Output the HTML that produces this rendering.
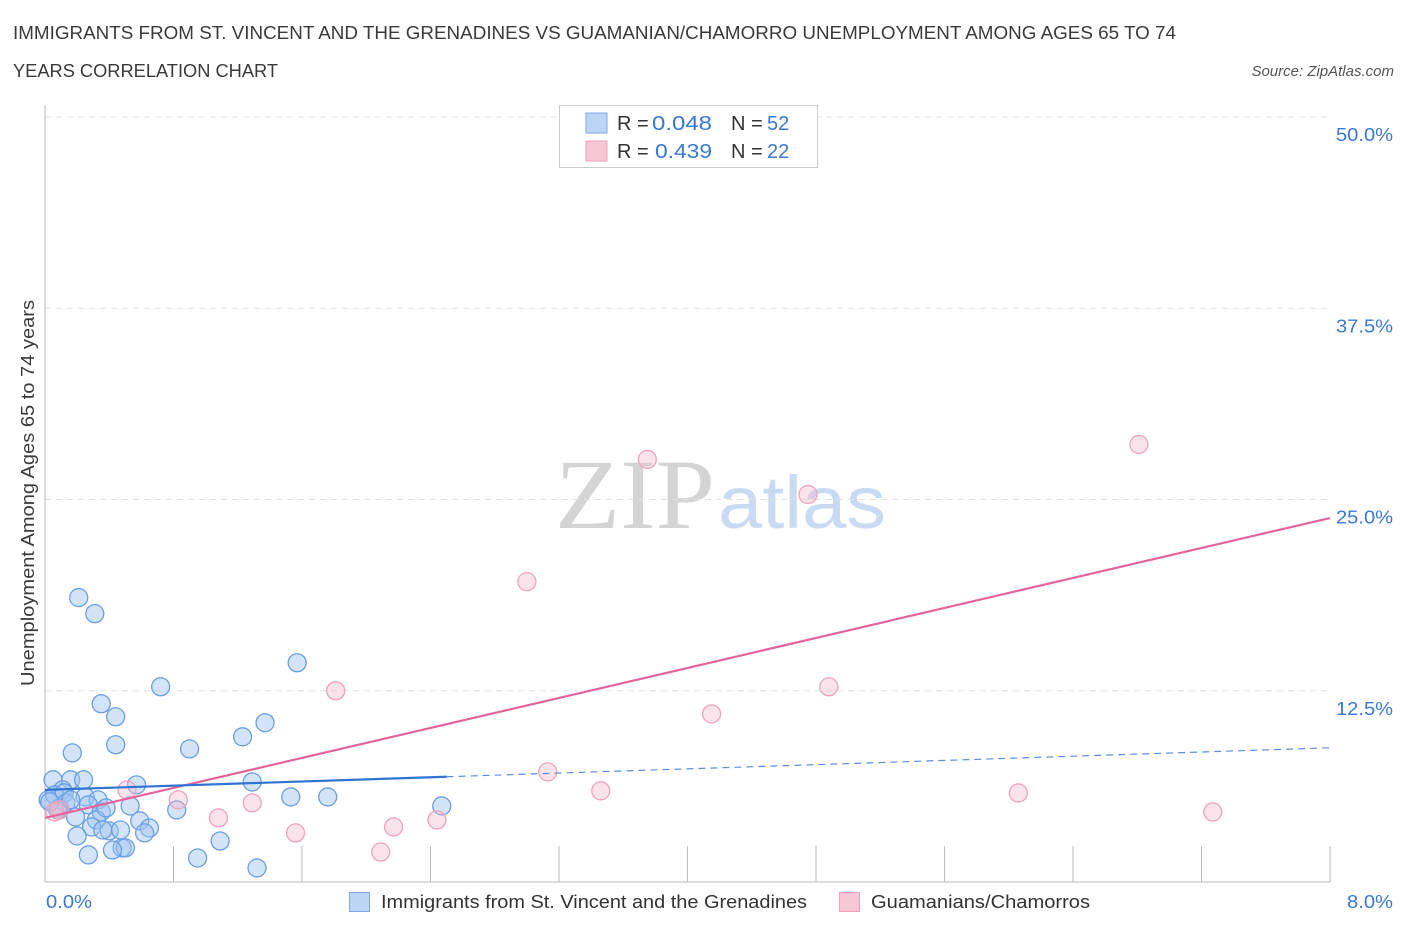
<!DOCTYPE html>
<html><head><meta charset="utf-8"><style>
body{margin:0;background:#fff;font-family:"Liberation Sans",sans-serif;}
</style></head><body>
<svg width="1406" height="930" xmlns="http://www.w3.org/2000/svg">
<text x="13" y="39" font-size="18" fill="#3a3a3a" textLength="1163" lengthAdjust="spacingAndGlyphs">IMMIGRANTS FROM ST. VINCENT AND THE GRENADINES VS GUAMANIAN/CHAMORRO UNEMPLOYMENT AMONG AGES 65 TO 74</text>
<text x="13" y="77" font-size="18" fill="#3a3a3a" textLength="265" lengthAdjust="spacingAndGlyphs">YEARS CORRELATION CHART</text>
<text x="1394" y="76" font-size="15" fill="#555" font-style="italic" text-anchor="end">Source: ZipAtlas.com</text>
<g>
<text x="555" y="528" font-size="100" font-family="Liberation Serif,serif" fill="#d4d4d4" textLength="160" lengthAdjust="spacingAndGlyphs">ZIP</text>
<text x="718" y="528" font-size="74" fill="#c9dbf3" textLength="168" lengthAdjust="spacingAndGlyphs">atlas</text>
</g>
<g id="grid"></g>
<line x1="45" y1="105" x2="45" y2="882" stroke="#bbb"/>
<line x1="45" y1="882" x2="1330" y2="882" stroke="#bbb"/>
<g id="pts"></g>
<g id="lines"></g>
<text transform="translate(34,493) rotate(-90)" font-size="18" fill="#3a3a3a" text-anchor="middle" textLength="386" lengthAdjust="spacingAndGlyphs">Unemployment Among Ages 65 to 74 years</text>
<text x="46" y="908" font-size="18" fill="#3b78d4" textLength="46" lengthAdjust="spacingAndGlyphs">0.0%</text>
<text x="1347" y="908" font-size="18" fill="#3b78d4" textLength="46" lengthAdjust="spacingAndGlyphs">8.0%</text>
<g>
<rect x="559.5" y="105.5" width="258" height="62" fill="#fff" stroke="#ccc"/>
<rect x="586" y="113" width="21" height="20" fill="#bcd4f5" stroke="#7fa9e6"/>
<rect x="586" y="141" width="21" height="20" fill="#f9c6d5" stroke="#eca2bb"/>
<text x="617" y="130" font-size="20" fill="#333">R =</text>
<text x="652" y="130" font-size="20" fill="#3b78d4" textLength="60" lengthAdjust="spacingAndGlyphs">0.048</text>
<text x="731" y="130" font-size="20" fill="#333">N =</text>
<text x="767" y="130" font-size="20" fill="#3b78d4">52</text>
<text x="617" y="158" font-size="20" fill="#333">R =</text>
<text x="655" y="158" font-size="20" fill="#3b78d4" textLength="57" lengthAdjust="spacingAndGlyphs">0.439</text>
<text x="731" y="158" font-size="20" fill="#333">N =</text>
<text x="767" y="158" font-size="20" fill="#3b78d4">22</text>
</g>
<g>
<rect x="349.5" y="892.5" width="20" height="19" fill="#bcd4f5" stroke="#7fa9e6"/>
<text x="381" y="908" font-size="18.5" fill="#333" textLength="426" lengthAdjust="spacingAndGlyphs">Immigrants from St. Vincent and the Grenadines</text>
</g>
<g>
<rect x="839.5" y="892.5" width="20" height="19" fill="#f9c6d5" stroke="#eca2bb"/>
<text x="871" y="908" font-size="18.5" fill="#333" textLength="219" lengthAdjust="spacingAndGlyphs">Guamanians/Chamorros</text>
</g>
</svg>
<script>
const yTicks=[12.5,25,37.5,50];
const yTickLabels=["12.5%","25.0%","37.5%","50.0%"];
const xTicks=[0,0.8,1.6,2.4,3.2,4.0,4.8,5.6,6.4,7.2,8.0];
const blueX=[0.21,0.31,1.57,0.72,0.35,0.44,1.37,1.23,0.44,0.90,0.17,0.05,0.16,0.24,0.57,1.29,0.11,0.25,0.33,1.53,1.76,0.53,0.82,2.47,0.02,0.06,0.12,0.09,0.27,0.35,0.32,0.29,0.59,0.65,0.40,0.20,0.62,1.09,0.48,0.50,0.42,0.27,0.95,1.32,0.13,0.08,0.47,0.36,0.03,0.16,0.19,0.38];
const blueY=[18.59,17.54,14.33,12.76,11.65,10.80,10.41,9.49,8.97,8.70,8.44,6.68,6.68,6.68,6.35,6.54,6.02,5.56,5.37,5.56,5.56,4.97,4.71,4.97,5.37,5.69,5.82,4.84,5.04,4.58,4.06,3.60,3.99,3.53,3.34,3.01,3.21,2.68,2.23,2.23,2.09,1.77,1.57,0.92,5.17,4.71,3.40,3.40,5.24,5.37,4.25,4.84];
const pinkX=[4.58,3.75,6.81,4.75,3.00,1.81,4.88,4.15,3.13,3.46,6.06,7.27,0.51,0.83,1.29,1.08,2.44,2.17,1.56,2.09,0.09,0.06];
const pinkY=[48.36,27.62,28.60,25.33,19.63,12.50,12.76,10.99,7.20,5.96,5.82,4.58,6.02,5.37,5.17,4.19,4.06,3.60,3.21,1.96,4.71,4.58];
const blueTrend=[6.02,0.344];
const pinkTrend=[4.19,2.45];
const blueSolidEnd=2.5;
const NS="http://www.w3.org/2000/svg";
const sx=v=>45+v*1285/8;
const sy=v=>882-v*15.3;
function mk(t,a){const e=document.createElementNS(NS,t);for(const k in a)e.setAttribute(k,a[k]);return e;}
const grid=document.getElementById('grid');
yTicks.forEach((t,i)=>{
 const l=mk('line',{x1:45,x2:1330,y1:sy(t),y2:sy(t),stroke:'#e2e2e2','stroke-dasharray':'6,5'});
 
 
 grid.appendChild(l);
 const tx=mk('text',{x:1336,y:sy(t)+24,'font-size':18,fill:'#3b78d4',textLength:57,lengthAdjust:'spacingAndGlyphs'});
 tx.textContent=yTickLabels[i];
 
 
 grid.appendChild(tx);
});
xTicks.forEach(t=>{
 const l=mk('line',{x1:sx(t),x2:sx(t),y1:846,y2:882,stroke:'#bbb'});
 
 
 grid.appendChild(l);
});
const pts=document.getElementById('pts');
blueX.forEach((x,i)=>{
 const c=mk('circle',{cx:sx(x),cy:sy(blueY[i]),r:9,fill:'rgba(160,196,240,0.45)',stroke:'#6b9fe3','stroke-width':1.3});
 
 
 pts.appendChild(c);
});
pinkX.forEach((x,i)=>{
 const c=mk('circle',{cx:sx(x),cy:sy(pinkY[i]),r:9,fill:'rgba(246,186,204,0.4)',stroke:'#eba4bb','stroke-width':1.3});
 
 
 pts.appendChild(c);
});
const lines=document.getElementById('lines');
const f=(tr,x)=>tr[0]+tr[1]*x;
let l=mk('line',{x1:sx(0),y1:sy(f(pinkTrend,0)),x2:sx(8),y2:sy(f(pinkTrend,8)),stroke:'#e5649a','stroke-width':2.2});


lines.appendChild(l);
l=mk('line',{x1:sx(0),y1:sy(f(blueTrend,0)),x2:sx(blueSolidEnd),y2:sy(f(blueTrend,blueSolidEnd)),stroke:'#2f74d0','stroke-width':2.2});


lines.appendChild(l);
l=mk('line',{x1:sx(blueSolidEnd),y1:sy(f(blueTrend,blueSolidEnd)),x2:sx(8),y2:sy(f(blueTrend,8)),stroke:'#5b8fd8','stroke-width':1.2,'stroke-dasharray':'7,5'});


lines.appendChild(l);
</script>
</body></html>
